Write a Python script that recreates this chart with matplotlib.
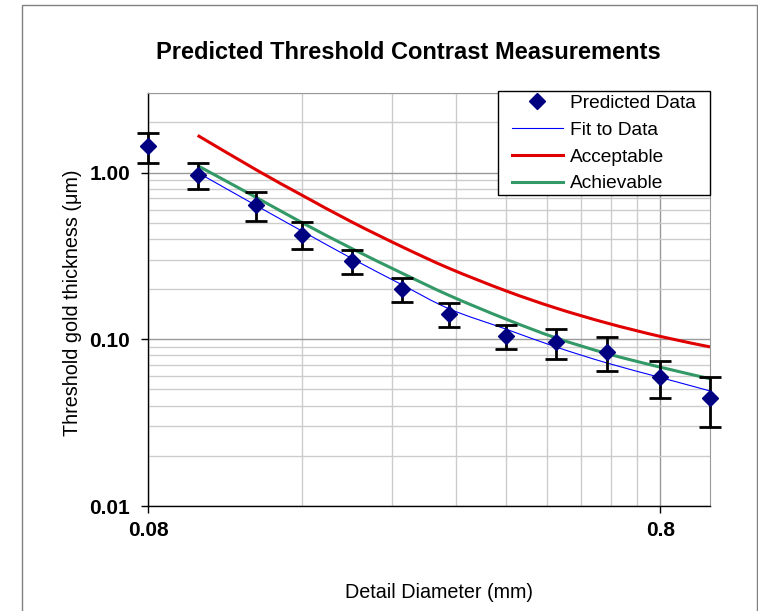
import numpy as np
import matplotlib
matplotlib.use('Agg')
import matplotlib.pyplot as plt
from matplotlib.patches import Rectangle, PathPatch
from matplotlib.lines import Line2D
from matplotlib.path import Path

plt.rcParams['font.family'] = ['Liberation Sans', 'DejaVu Sans']

# measured points
diam = [0.08, 0.10, 0.13, 0.16, 0.20, 0.25, 0.31, 0.40, 0.50, 0.63, 0.80, 1.00]
thick = [1.437, 0.967, 0.637, 0.425, 0.294, 0.200, 0.142, 0.104, 0.096, 0.084, 0.059, 0.0447]
err = [0.289, 0.168, 0.125, 0.077, 0.048, 0.032, 0.024, 0.017, 0.0195, 0.0195, 0.0146, 0.0148]

# curves
curve_x = [0.10, 0.13, 0.16, 0.20, 0.25, 0.31, 0.40, 0.50, 0.63, 0.80, 1.00]
fit = [1.0, 0.635, 0.445, 0.305, 0.213, 0.152, 0.115, 0.090, 0.072, 0.059, 0.049]
acceptable = [1.67, 1.04, 0.73, 0.505, 0.36, 0.266, 0.195, 0.154, 0.125, 0.104, 0.090]
achievable = [1.10, 0.71, 0.50, 0.35, 0.25, 0.183, 0.132, 0.102, 0.082, 0.068, 0.058]

x_ticks = [0.08, 0.8]
x_minor = [0.16, 0.24, 0.32, 0.40, 0.48, 0.56, 0.64, 0.72]
y_ticks = [0.01, 0.1, 1.0]

W, H = 758, 611


def smooth_path(xs, ys):
    # excel style smoothed line: catmull-rom bezier through the points (in log space)
    pts = np.column_stack([np.log10(xs), np.log10(ys)])
    n = len(pts)
    verts = [pts[0]]
    codes = [Path.MOVETO]
    for i in range(n - 1):
        p0 = pts[max(i - 1, 0)]
        p1 = pts[i]
        p2 = pts[i + 1]
        p3 = pts[min(i + 2, n - 1)]
        verts += [p1 + (p2 - p0) / 6., p2 - (p3 - p1) / 6., p2]
        codes += [Path.CURVE4] * 3
    return Path(10 ** np.array(verts), codes)


def px(x0, y0, w, h):
    return (x0 / W, 1 - (y0 + h) / H, w / W, h / H)


fig = plt.figure(figsize=(W / 100., H / 100.), dpi=100)

# chart area border
fig.patches.append(Rectangle((22. / W, -0.01), (757. - 22.) / W, 1.01 - 5. / H,
                             transform=fig.transFigure, fill=False,
                             edgecolor='#808080', linewidth=1.0))

ax = fig.add_axes(px(148., 93., 562., 413.))
ax.set_xscale('log')
ax.set_yscale('log')
ax.set_xlim(0.08, 1.0)
ax.set_ylim(0.01, 3.0)

ax.set_xticks(x_ticks)
ax.set_xticklabels(['0.08', '0.8'])
ax.set_xticks(x_minor, minor=True)
ax.set_xticklabels([], minor=True)
ax.set_yticks(y_ticks)
ax.set_yticklabels(['%.2f' % v for v in y_ticks])

ax.grid(which='major', color='#999999', linewidth=1.0)
ax.grid(which='minor', color='#cccccc', linewidth=1.0)
ax.set_axisbelow(True)

ax.tick_params(which='major', direction='out', length=5, width=1, color='black',
               labelsize=15)
ax.tick_params(axis='y', pad=8.0)
ax.tick_params(axis='x', pad=6.0)
ax.tick_params(which='minor', length=0)
for lab in ax.get_xticklabels() + ax.get_yticklabels():
    lab.set_fontweight('bold')

for s in ['top', 'right']:
    ax.spines[s].set_color('#999999')
for s in ['left', 'bottom']:
    ax.spines[s].set_color('black')
    ax.spines[s].set_linewidth(1.0)

for ys, col, lw in [(fit, '#0000ff', 0.8), (acceptable, '#e00000', 2.2),
                    (achievable, '#339966', 2.2)]:
    ax.add_patch(PathPatch(smooth_path(curve_x, ys), fill=False, edgecolor=col,
                           linewidth=lw, zorder=3, capstyle='butt'))

eb = ax.errorbar(diam, thick, yerr=err, fmt='D', color='#000080', markersize=8.5,
                 ecolor='black', elinewidth=2, capsize=8, capthick=2, zorder=4)
for art in eb.lines[1] + eb.lines[2]:
    art.set_clip_on(False)
eb.lines[0].set_clip_on(False)

# legend box
ax.add_patch(Rectangle(px(498., 91., 212., 104.)[:2], 212. / W, 104. / H,
                       transform=fig.transFigure, facecolor='white',
                       edgecolor='black', linewidth=1.0, clip_on=False, zorder=6))
handles = [Line2D([], [], linestyle='none', marker='D', color='#000080', markersize=8),
           Line2D([], [], color='#0000ff', linewidth=0.8),
           Line2D([], [], color='#e00000', linewidth=2.2),
           Line2D([], [], color='#339966', linewidth=2.2)]
leg = ax.legend(handles, ['Predicted Data', 'Fit to Data', 'Acceptable', 'Achievable'],
                loc='upper left', bbox_to_anchor=(511.7 / W, 1 - 94.5 / H),
                bbox_transform=fig.transFigure, fontsize=13.8, frameon=False,
                borderpad=0.0, labelspacing=0.49, handlelength=2.68,
                handletextpad=0.35, borderaxespad=0.0)
leg.set_zorder(7)

fig.text(408.5 / W, 1 - 59. / H, 'Predicted Threshold Contrast Measurements',
         ha='center', va='baseline', fontsize=17, fontweight='bold')
fig.text(439. / W, 1 - 592. / H, 'Detail Diameter (mm)',
         ha='center', va='center', fontsize=14.2)
fig.text(72.5 / W, 1 - 303. / H, 'Threshold gold thickness (\u03bcm)',
         ha='center', va='center', rotation=90, fontsize=14.2)

plt.savefig('out.png', dpi=100)
